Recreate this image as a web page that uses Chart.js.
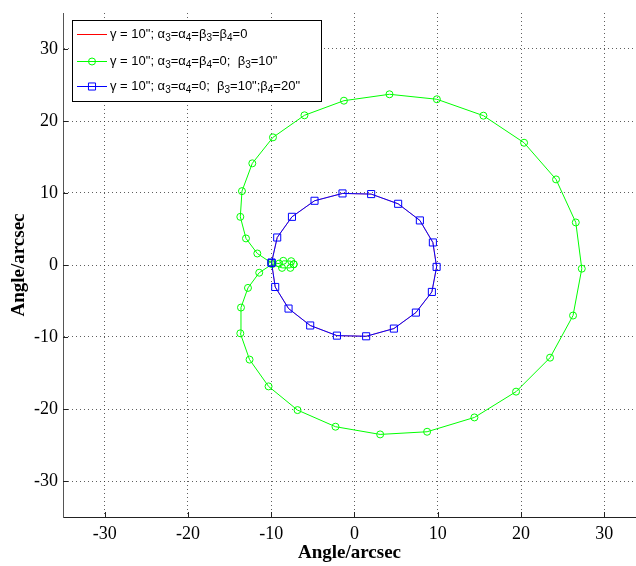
<!DOCTYPE html>
<html>
<head>
<meta charset="utf-8">
<title>Angle/arcsec</title>
<script src="https://cdn.jsdelivr.net/npm/chart.js@4.4.1/dist/chart.umd.min.js"></script>
<style>
    html, body { margin: 0; padding: 0; background: #fff; overflow: hidden; }
    canvas { display: block; }
</style>
</head>
<body>
<canvas id="angleChart" width="636" height="566"></canvas>
<script>
// --- Data (arcsec) ---
const xTicks = [-30, -20, -10, 0, 10, 20, 30];
const yTicks = [-30, -20, -10, 0, 10, 20, 30];

const labelA = 'γ = 10"; α₃=α₄=β₃=β₄=0';
const labelB = 'γ = 10"; α₃=α₄=β₄=0;  β₃=10"';
const labelC = 'γ = 10"; α₃=α₄=0;  β₃=10";β₄=20"';

// case A (red) sits right under the blue curve, so it is not visible
const caseA_x = [-9.96, -9.28, -7.51, -4.80, -1.44, 2.00, 5.24, 7.85, 9.41, 9.86, 9.29, 7.37, 4.73, 1.40, -2.11, -5.32, -7.92, -9.52, -9.96];
const caseA_y = [0.32, 3.82, 6.69, 8.92, 9.94, 9.85, 8.50, 6.19, 3.13, -0.26, -3.74, -6.61, -8.83, -9.90, -9.81, -8.40, -6.05, -3.05, 0.32];

const caseB_x = [-7.3, -7.6, -8.55, -9.05, -10.0, -11.67, -13.03, -13.71, -13.51, -12.27, -9.79, -6.01, -1.27, 4.20, 9.89, 15.48, 20.36, 24.20, 26.57, 27.29,
                 26.24, 23.48, 19.40, 14.40, 8.72, 3.08, -2.28, -6.84, -10.32, -12.60, -13.71, -13.63, -12.79, -11.44, -9.9, -8.7, -7.7, -7.3];
const caseB_y = [0.1, 0.53, 0.58, 0.2, 0.3, 1.60, 3.69, 6.69, 10.26, 14.12, 17.73, 20.79, 22.82, 23.71, 23.02, 20.74, 16.98, 11.89, 5.91, -0.51,
                 -7.02, -12.87, -17.59, -21.17, -23.16, -23.53, -22.46, -20.15, -16.86, -13.14, -9.49, -5.91, -3.18, -1.07, 0.1, -0.4, -0.4, 0.1];

const caseC_x = [-9.96, -9.28, -7.51, -4.80, -1.44, 2.00, 5.24, 7.85, 9.41, 9.86, 9.29, 7.37, 4.73, 1.40, -2.11, -5.32, -7.92, -9.52, -9.96];
const caseC_y = [0.32, 3.82, 6.69, 8.92, 9.94, 9.85, 8.50, 6.19, 3.13, -0.26, -3.74, -6.61, -8.83, -9.90, -9.81, -8.40, -6.05, -3.05, 0.32];

function toPoints(xs, ys) {
    return xs.map((x, i) => ({ x: x, y: ys[i] }));
}

// --- Legend box drawn inside the plot, MATLAB style ---
function drawRich(ctx, text, x, y) {
    const subs = { '₃': '3', '₄': '4' };
    for (const ch of text) {
        if (subs[ch]) {
            ctx.font = '10px "Liberation Sans", Arial, sans-serif';
            ctx.fillText(subs[ch], x, y + 4);
            x += ctx.measureText(subs[ch]).width;
        } else {
            ctx.font = '13px "Liberation Sans", Arial, sans-serif';
            ctx.fillText(ch, x, y);
            x += ctx.measureText(ch).width;
        }
    }
}

function drawMarker(ctx, style, x, y, r) {
    ctx.beginPath();
    if (style === 'circle') {
        ctx.arc(x, y, r, 0, Math.PI * 2);
    } else if (style === 'rect') {
        const s = r * Math.SQRT1_2;
        ctx.rect(x - s, y - s, 2 * s, 2 * s);
    }
    ctx.stroke();
}

const legendBox = {
    id: 'legendBox',
    afterDatasetsDraw(chart) {
        const { ctx, chartArea } = chart;
        const left = chartArea.left + 9, top = chartArea.top + 7;
        const width = 249, height = 81;
        const rows = [14, 41, 66];

        ctx.save();
        ctx.fillStyle = '#fff';
        ctx.fillRect(left, top, width, height);
        ctx.strokeStyle = '#000';
        ctx.lineWidth = 1;
        ctx.strokeRect(left + 0.5, top + 0.5, width, height);

        chart.data.datasets.forEach((ds, i) => {
            const y = top + rows[i] + 0.5;
            ctx.strokeStyle = ds.borderColor;
            ctx.lineWidth = 1;
            ctx.beginPath();
            ctx.moveTo(left + 5, y);
            ctx.lineTo(left + 35, y);
            ctx.stroke();
            if (ds.pointRadius > 0) drawMarker(ctx, ds.pointStyle, left + 20, y, ds.pointRadius);

            ctx.fillStyle = '#000';
            ctx.textBaseline = 'middle';
            ctx.textAlign = 'left';
            drawRich(ctx, ds.label, left + 38, y);
        });
        ctx.restore();
    }
};

// small inward tick marks on the left and bottom axes
const innerTicks = {
    id: 'innerTicks',
    afterDraw(chart) {
        const { ctx, chartArea, scales } = chart;
        ctx.save();
        ctx.strokeStyle = '#222';
        ctx.lineWidth = 1;
        ctx.beginPath();
        xTicks.forEach(v => {
            const px = Math.round(scales.x.getPixelForValue(v)) + 0.5;
            ctx.moveTo(px, chartArea.bottom);
            ctx.lineTo(px, chartArea.bottom - 5);
        });
        yTicks.forEach(v => {
            const py = Math.round(scales.y.getPixelForValue(v)) + 0.5;
            ctx.moveTo(chartArea.left, py);
            ctx.lineTo(chartArea.left + 5, py);
        });
        ctx.stroke();
        ctx.restore();
    }
};

const serif = '"Liberation Serif", "Times New Roman", serif';

new Chart(document.getElementById('angleChart'), {
    type: 'scatter',
    data: {
        datasets: [
            {
                label: labelA,
                data: toPoints(caseA_x, caseA_y),
                showLine: true,
                borderColor: '#ff0000',
                borderWidth: 0.6,
                pointRadius: 0,
                order: 2
            },
            {
                label: labelB,
                data: toPoints(caseB_x, caseB_y),
                showLine: true,
                borderColor: '#00ff00',
                backgroundColor: 'rgba(0,0,0,0)',
                borderWidth: 1,
                pointStyle: 'circle',
                pointRadius: 3.5,
                pointBorderWidth: 1,
                order: 1
            },
            {
                label: labelC,
                data: toPoints(caseC_x, caseC_y),
                showLine: true,
                borderColor: '#0000ff',
                backgroundColor: 'rgba(0,0,0,0)',
                borderWidth: 1,
                pointStyle: 'rect',
                pointRadius: 5,
                pointBorderWidth: 1,
                order: 0
            }
        ]
    },
    options: {
        responsive: false,
        animation: false,
        layout: { autoPadding: false, padding: { top: 13, right: 0, bottom: 0, left: 0 } },
        plugins: {
            legend: { display: false },
            tooltip: { enabled: false }
        },
        scales: {
            x: {
                type: 'linear',
                min: -35,
                max: 33.8,
                afterBuildTicks: (scale) => { scale.ticks = xTicks.map(v => ({ value: v })); },
                afterFit: (scale) => {
                    scale.height = 49;
                    scale.paddingLeft = 0;
                    scale.paddingRight = 0;
                },
                grid: { color: 'rgba(40,40,40,0.75)', drawTicks: false },
                border: { color: '#222', width: 1, dash: [1, 3] },
                ticks: { color: '#000', padding: 6, maxRotation: 0, font: { family: serif, size: 18 } },
                title: {
                    display: true,
                    text: 'Angle/arcsec',
                    color: '#000',
                    padding: { top: 0, bottom: 2 },
                    font: { family: serif, size: 19, weight: 'bold' }
                }
            },
            y: {
                type: 'linear',
                min: -35,
                max: 35,
                afterBuildTicks: (scale) => { scale.ticks = yTicks.map(v => ({ value: v })); },
                afterFit: (scale) => {
                    scale.width = 63;
                    scale.paddingTop = 0;
                    scale.paddingBottom = 0;
                },
                grid: { color: 'rgba(40,40,40,0.75)', drawTicks: false },
                border: { color: '#555', width: 1, dash: [1, 3] },
                ticks: { color: '#000', padding: 5, font: { family: serif, size: 18 } },
                title: {
                    display: true,
                    text: 'Angle/arcsec',
                    color: '#000',
                    padding: { top: 8, bottom: 0 },
                    font: { family: serif, size: 19, weight: 'bold' }
                }
            }
        }
    },
    plugins: [legendBox, innerTicks]
});
</script>
</body>
</html>
